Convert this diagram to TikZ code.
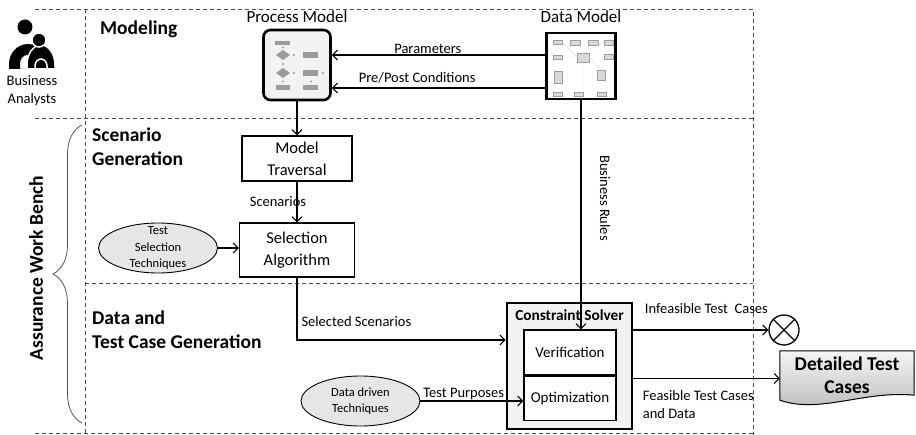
\documentclass[tikz,border=0pt]{standalone}
\usepackage{fontspec}
\setmainfont{Carlito}
\usetikzlibrary{arrows.meta,calc,positioning,shapes.geometric,decorations.pathreplacing,backgrounds}
\definecolor{lanestroke}{HTML}{4A4A4A}
\definecolor{bracestroke}{HTML}{555555}
\definecolor{panelfill}{HTML}{F2F2F2}
\definecolor{techfill}{HTML}{E6E6E6}
\definecolor{thumbfill}{HTML}{9C9C9C}
\definecolor{thumblight}{HTML}{D9D9D9}
\tikzset{
  lane/.style={draw=lanestroke, dash pattern=on 4pt off 3pt, line width=0.8pt},
  stage/.style={font=\fontsize{19.5}{24}\selectfont\bfseries, align=left, inner sep=0pt},
  modeltitle/.style={font=\fontsize{17}{20}\selectfont, inner sep=0pt},
  model/.style={draw, line width=2.6pt, inner sep=0pt},
  task/.style={
    rectangle, draw, line width=1.1pt, align=center, inner sep=0pt,
    font=\fontsize{16.5}{22}\selectfont
  },
  technique/.style={
    ellipse, draw, fill=techfill, line width=0.9pt,
    minimum width=119pt, minimum height=50pt, inner xsep=0pt, inner ysep=-6pt,
    align=center
  },
  flow/.style={-{Straight Barb[length=5pt,width=10pt]}, line width=1.1pt},
  flowlabel/.style={font=\fontsize{14.5}{18}\selectfont, inner sep=1pt, align=left},
  thumb/.style={fill=thumbfill, draw=none}
}

\begin{document}
\begin{tikzpicture}[x=1pt,y=-1pt]
  \useasboundingbox (0,0) rectangle (916,435);

  % swim lanes
  \draw[lane] (35,9) -- (753,9) -- (753,435);
  \draw[lane] (85,9) -- (85,435);
  \draw[lane] (35,118) -- (753,118);
  \draw[lane] (85,283) -- (753,283);
  \draw[lane] (35,433.5) -- (753,433.5);

  % business analysts
  \fill[even odd rule] (9,69) -- (9,64) arc[start angle=180,end angle=0,x radius=19pt,y radius=20pt] -- (47,69) -- cycle
    (20,69) -- (20,64) arc[start angle=180,end angle=0,x radius=7pt,y radius=9pt] -- (34,69) -- cycle;
  \fill (25,27) circle (7.5pt);
  \filldraw[draw=white, line width=1.5pt, even odd rule] (27,69) -- (27,65) arc[start angle=180,end angle=0,x radius=14pt,y radius=20pt] -- (55,69) -- cycle
    (35,69) -- (35,66) arc[start angle=180,end angle=0,x radius=6pt,y radius=7pt] -- (47,69) -- cycle;
  \filldraw[draw=white, line width=1.5pt] (39,40) circle (7pt);
  \node[flowlabel, align=center] (analysts) at (32,91) {Business\\Analysts};

  \node[stage, anchor=west] (modeling) at (100,29) {Modeling};
  \node[stage, anchor=west] (scengen) at (92,146.5) {Scenario\\Generation};
  \node[stage, anchor=west] (datagen) at (92,330) {Data and\\Test Case Generation};

  % assurance work bench brace
  \draw[bracestroke, line width=0.8pt, decorate, decoration={brace, amplitude=29pt}] (82,423) -- (82,125);
  \node[stage, rotate=90] (workbench) at (36,268) {Assurance Work Bench};

  % modeling lane
  \node[model, rounded corners=7pt, fill=panelfill, minimum width=67pt, minimum height=70pt] (pm) at (297,65) {};
  \node[modeltitle, above=6pt of pm] (pmtitle) {Process Model};
  \node[model, fill=white, minimum width=69pt, minimum height=66pt] (dm) at (581,66) {};
  \node[modeltitle, above=9pt of dm] (dmtitle) {Data Model};

  % process model thumbnail
  \fill[thumb] (275,41) rectangle (290,45);
  \fill[thumb] (276,55) -- (283,50) -- (290,55) -- (283,60) -- cycle;
  \fill[thumb] (276,73) -- (283,68) -- (290,73) -- (283,78) -- cycle;
  \fill[thumb] (303,52) rectangle (318,58);
  \fill[thumb] (303,70) rectangle (318,76);
  \fill[thumb] (276,85) rectangle (290,90);
  \fill[thumb] (303,85) rectangle (318,90);
  \foreach \dx/\dy in {283/47.5, 283/64, 283/81.5, 311/81.5, 294/55, 294/73, 323/73}
    \fill[thumbfill] (\dx,\dy) circle (1.1pt);

  % data model thumbnail
  \foreach \bx/\by/\bw/\bh in {553/40/9/4, 570/40/10/5, 588/40/10/5, 604/40/9/5,
      553/55/9/4, 577/53/12/9, 604/54/9/5,
      554/71/8/12, 597/70/8/10,
      553/92/9/4, 574/92/9/4, 597/92/9/4}
    \filldraw[draw=thumbfill, fill=thumblight, line width=0.3pt] (\bx,\by) rectangle ++(\bw,\bh);
  \draw[thumblight, line width=0.4pt] (562,42) -- (577,57) -- (604,42) (583,62) -- (583,92) (589,57) -- (601,70) (562,57) -- (577,57);

  \draw[flow] ([yshift=11pt]dm.west) -- node[flowlabel, above, pos=0.55] {Parameters} ([yshift=11pt]dm.west -| pm.east);
  \draw[flow] ([yshift=-22pt]dm.west) -- node[flowlabel, above=3pt, pos=0.6] {Pre/Post Conditions} ([yshift=-22pt]dm.west -| pm.east);

  % scenario generation lane
  \node[task, minimum width=110pt, minimum height=45pt] (trav) at (297,158.5) {Model\\Traversal};
  \node[task, minimum width=115pt, minimum height=54pt] (sel) at (297,250) {Selection\\Algorithm};
  \node[technique, font=\fontsize{12.5}{16.5}\selectfont] (tsel) at (158,248) {Test\\Selection\\Techniques};

  \draw[flow] (pm.south) -- (trav.north);
  \draw[flow] (trav.south) -- node[flowlabel, pos=0.5, xshift=-19pt] {Scenarios} (sel.north);
  \draw[flow] (tsel.east) -- (tsel.east -| sel.west);

  % data and test case generation lane
  \node[model, fill=panelfill, minimum width=125pt, minimum height=126pt] (cs) at (569.5,366) {};
  \node[font=\fontsize{15.3}{18}\selectfont\bfseries, inner sep=0pt, below=8pt of cs.north] (cstitle) {Constraint Solver};
  \node[task, fill=white, minimum width=92pt, minimum height=45pt, font=\fontsize{15}{18}\selectfont] (ver) at (570,352.5) {Verification};
  \node[task, fill=white, minimum width=92pt, minimum height=44pt, font=\fontsize{15}{18}\selectfont, anchor=north] (opt) at (ver.south) {Optimization};
  \node[technique, font=\fontsize{12.5}{15.5}\selectfont] (ddt) at (360.5,401) {Data driven\\Techniques};

  \draw[flow] (dm.south) -- (dm.south |- ver.north);
  \node[flowlabel, rotate=-90] (rules) at (605,198) {Business Rules};
  \draw[flow] (sel.south) |- node[flowlabel, pos=0.5, anchor=south west, xshift=3pt, yshift=12pt] {Selected Scenarios} ([yshift=26pt]cs.west);
  \draw[flow] (ddt.east) -- node[flowlabel, above, pos=0.42] {Test Purposes} (ddt.east -| opt.west);

  % outcomes
  \node[circle, draw, line width=1.3pt, minimum size=30pt, inner sep=0pt] (drop) at (784,330) {};
  \draw[line width=1.3pt] (drop.north west) -- (drop.south east) (drop.north east) -- (drop.south west);
  \node[font=\fontsize{19.5}{23}\selectfont\bfseries, align=center, minimum width=134pt, minimum height=49pt, inner sep=0pt] (dtc) at (847,375.5) {Detailed Test\\Cases};
  \begin{scope}[on background layer]
    \draw[line width=1pt, top color=gray!8, bottom color=gray!55]
      (dtc.north west) -- (dtc.north east) -- ([yshift=5pt]dtc.south east)
      .. controls ([xshift=-50pt,yshift=10pt]dtc.south east) and ([xshift=40pt,yshift=-14pt]dtc.south west) .. (dtc.south west) -- cycle;
  \end{scope}
  \coordinate (feasin) at ([yshift=-3pt]dtc.west);

  \draw[flow] (cs.east |- drop.west) -- node[flowlabel, pos=0, anchor=south west, xshift=10pt, yshift=15pt] {Infeasible Test~ Cases} (drop.west);
  \draw[flow] (cs.east |- feasin) -- node[flowlabel, pos=0, anchor=north west, xshift=8pt, yshift=-10pt] {Feasible Test Cases\\and Data} (feasin);
\end{tikzpicture}
\end{document}
